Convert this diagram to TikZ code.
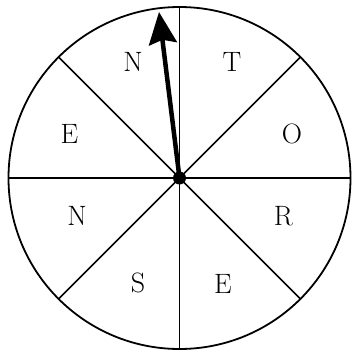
\documentclass[tikz,border=0pt]{standalone}
\usetikzlibrary{arrows.meta}
\begin{document}
\begin{tikzpicture}[x=1pt,y=-1pt,
  rim/.style={line width=1.8pt},
  spoke/.style={line width=1.7pt},
  lett/.style={font=\fontsize{28}{30}\selectfont, inner sep=0pt}]
\useasboundingbox (0,0) rectangle (351,353);
\coordinate (c) at (179.5,178);
\draw[rim] (c) circle (171);
\foreach \a in {0,45,...,315}{
  \draw[spoke] (c) -- ++(\a:171);
}
\node[lett] (t) at (232,61.5) {T};
\node[lett] (o) at (292,134) {O};
\node[lett] (r) at (283.5,216) {R};
\node[lett] (e1) at (223,284) {E};
\node[lett] (s) at (138,282.5) {S};
\node[lett] (n1) at (77,216) {N};
\node[lett] (e2) at (69.5,134) {E};
\node[lett] (n2) at (133,61.5) {N};
\coordinate (tip) at (159,12);
\draw[line width=4.5pt, -{Stealth[length=32pt,width=28pt,inset=4pt]}] (c) -- (tip);
\fill (c) circle (6.5);
\end{tikzpicture}
\end{document}
